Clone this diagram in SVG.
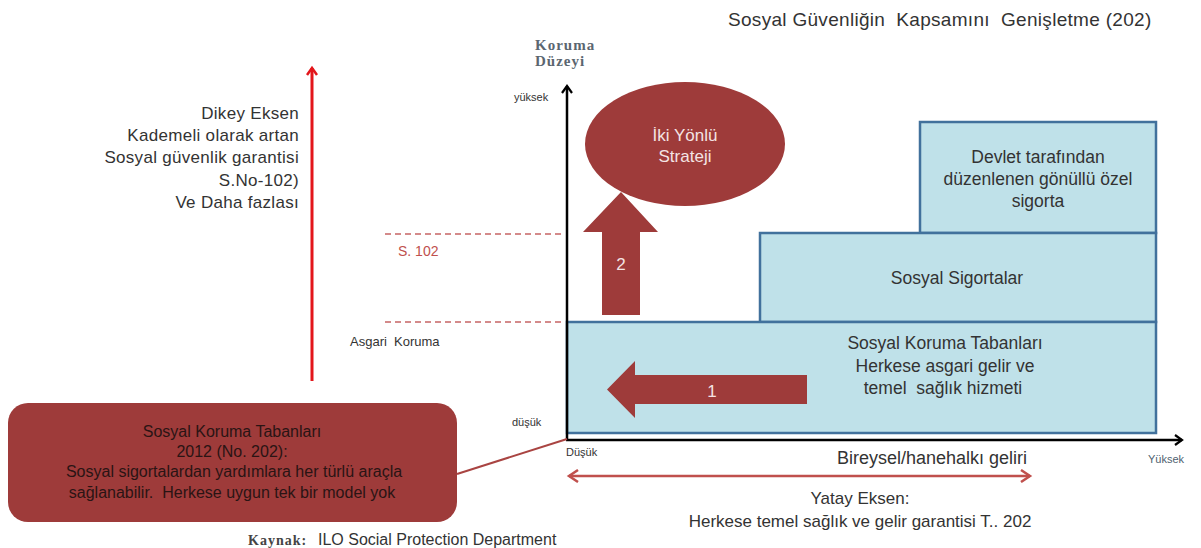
<svg xmlns="http://www.w3.org/2000/svg" width="1201" height="548" viewBox="0 0 1201 548">
<defs>
<style>
.t{font-family:"Liberation Sans",Arial,sans-serif;fill:#333;}
.c{text-anchor:middle;}
.r{text-anchor:end;}
.box{fill:#BFE1E9;stroke:#41719C;stroke-width:2.5;}
.red{fill:#9E3B3A;}
.wt{font-family:"Liberation Sans",Arial,sans-serif;fill:#F4E4E4;text-anchor:middle;}
.serif{font-family:"Liberation Serif","Times New Roman",serif;font-weight:bold;}
.dash{stroke:#D48A8A;stroke-width:2;stroke-dasharray:6 4;fill:none;}
.note{fill:#2A1414;}
.s102{fill:#C0504D;}
.yk{fill:#4F5F70;}
.kd{fill:#5B6670;}
</style>
<marker id="ab" viewBox="0 0 12 12" markerWidth="12" markerHeight="12" refX="9" refY="6" orient="auto" markerUnits="userSpaceOnUse">
<path d="M2,1 L9,6 L2,11" fill="none" stroke="#000" stroke-width="2.2"/>
</marker>
<marker id="ar" viewBox="0 0 14 14" markerWidth="14" markerHeight="14" refX="11" refY="7" orient="auto-start-reverse" markerUnits="userSpaceOnUse">
<path d="M2,1 L11,7 L2,13" fill="none" stroke="#C0504D" stroke-width="2.5"/>
</marker>
<marker id="ar2" viewBox="0 0 12 12" markerWidth="12" markerHeight="12" refX="9" refY="6" orient="auto" markerUnits="userSpaceOnUse">
<path d="M2,1 L9,6 L2,11" fill="none" stroke="#E3161B" stroke-width="2.5"/>
</marker>
</defs>
<rect width="1201" height="548" fill="#fff"/>

<text class="t" x="728" y="26" font-size="19" letter-spacing="0.3" xml:space="preserve">Sosyal Güvenliğin  Kapsamını  Genişletme (202)</text>

<g id="box-top">
<rect class="box" x="920" y="122" width="236" height="111"/>
<text class="t c" x="1038" y="163" font-size="17.5">Devlet tarafından</text>
<text class="t c" x="1038" y="185" font-size="17.5">düzenlenen gönüllü özel</text>
<text class="t c" x="1038" y="207" font-size="17.5">sigorta</text>
</g>
<g id="box-middle">
<rect class="box" x="760" y="233" width="396" height="89"/>
<text class="t c" x="957" y="284" font-size="17.5">Sosyal Sigortalar</text>
</g>
<g id="box-bottom">
<rect class="box" x="567" y="322" width="589" height="111"/>
<text class="t c" x="945" y="349" font-size="17.5">Sosyal Koruma Tabanları</text>
<text class="t c" x="945" y="372" font-size="17.5">Herkese asgari gelir ve</text>
<text class="t c" x="943" y="394" font-size="17.5" xml:space="preserve">temel  sağlık hizmeti</text>
</g>

<g id="connectors">
<line x1="567" y1="440" x2="567" y2="86" stroke="#000" stroke-width="2.5" marker-end="url(#ab)"/>
<line x1="566" y1="440" x2="1182" y2="440" stroke="#000" stroke-width="2.5" marker-end="url(#ab)"/>
<line class="dash" x1="385" y1="234" x2="564" y2="234"/>
<line class="dash" x1="385" y1="322" x2="564" y2="322"/>
<line x1="312" y1="381" x2="312" y2="68" stroke="#E3161B" stroke-width="3" marker-end="url(#ar2)"/>
<line x1="569" y1="476" x2="1030" y2="476" stroke="#C0504D" stroke-width="2.5" marker-start="url(#ar)" marker-end="url(#ar)"/>
<line x1="457" y1="474" x2="567" y2="439" stroke="#A94442" stroke-width="2"/>
</g>

<g id="arrow-1">
<polygon class="red" points="807,375 635,375 635,361 607,389.5 635,418 635,404 807,404"/>
<text class="wt" x="712" y="397" font-size="17">1</text>
</g>
<g id="arrow-2">
<polygon class="red" points="602,315 640,315 640,232 658,232 621,192 583,232 602,232"/>
<text class="wt" x="621" y="270" font-size="17">2</text>
</g>
<g id="strategy">
<ellipse class="red" cx="685" cy="144" rx="100" ry="62"/>
<text class="wt" x="685" y="141" font-size="17">İki Yönlü</text>
<text class="wt" x="685" y="162" font-size="17">Strateji</text>
</g>

<g id="axis-labels">
<text class="serif kd" x="535" y="50" font-size="15" letter-spacing="1">Koruma</text>
<text class="serif kd" x="535" y="66" font-size="15" letter-spacing="1">Düzeyi</text>
<text class="t" x="514" y="101" font-size="11">yüksek</text>
<text class="t" x="512" y="426" font-size="11">düşük</text>
<text class="t" x="566" y="456" font-size="11">Düşük</text>
<text class="t yk" x="1148" y="463" font-size="11">Yüksek</text>
<text class="t s102" x="398" y="256" font-size="14">S. 102</text>
<text class="t" x="350" y="346" font-size="13" xml:space="preserve">Asgari  Koruma</text>
</g>

<g id="vertical-axis-text">
<text class="t r" x="299" y="119" font-size="17" letter-spacing="0.3">Dikey Eksen</text>
<text class="t r" x="299" y="141" font-size="17" letter-spacing="0.3">Kademeli olarak artan</text>
<text class="t r" x="299" y="163" font-size="17" letter-spacing="0.3">Sosyal güvenlik garantisi</text>
<text class="t r" x="299" y="186" font-size="17" letter-spacing="0.3">S.No-102)</text>
<text class="t r" x="299" y="208" font-size="17" letter-spacing="0.3">Ve Daha fazlası</text>
</g>

<g id="note-box">
<rect class="red" x="8" y="403" width="449" height="119" rx="20"/>
<text class="t c note" x="232" y="437" font-size="16">Sosyal Koruma Tabanları</text>
<text class="t c note" x="232" y="457" font-size="16">2012 (No. 202):</text>
<text class="t c note" x="234" y="477" font-size="16">Sosyal sigortalardan yardımlara her türlü araçla</text>
<text class="t c note" x="232" y="498" font-size="16" xml:space="preserve">sağlanabilir.  Herkese uygun tek bir model yok</text>
</g>

<g id="horizontal-axis-text">
<text class="t c" x="932" y="464" font-size="18">Bireysel/hanehalkı geliri</text>
<text class="t c" x="860" y="504" font-size="17">Yatay Eksen:</text>
<text class="t c" x="860" y="527" font-size="17">Herkese temel sağlık ve gelir garantisi T.. 202</text>
</g>

<g id="source">
<text class="serif" x="248" y="545" font-size="14" fill="#444" letter-spacing="1">Kaynak:</text>
<text class="t" x="318" y="545" font-size="16">ILO Social Protection Department</text>
</g>
</svg>
